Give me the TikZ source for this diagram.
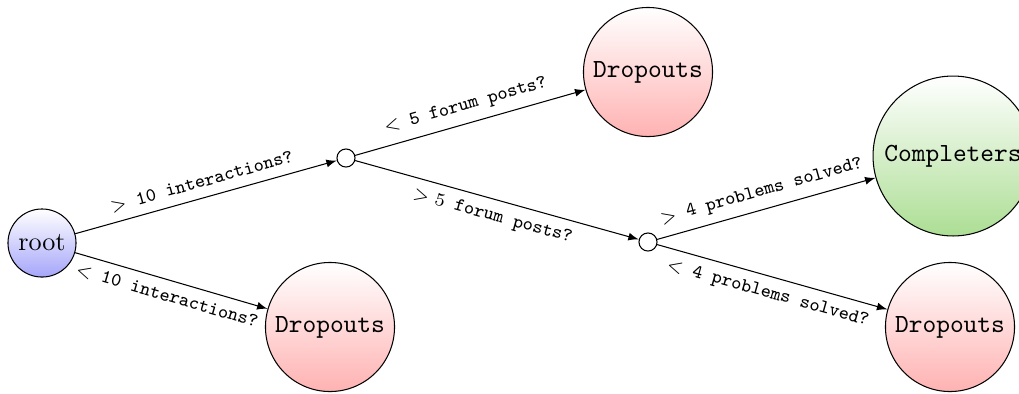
\documentclass[tikz,border=0pt]{standalone}
\usetikzlibrary{arrows}
\definecolor{dropc}{RGB}{255,178,178}
\definecolor{compc}{RGB}{172,222,148}
\definecolor{rootc}{RGB}{165,165,250}
\begin{document}
\begin{tikzpicture}[x=0.382pt,y=-0.382pt,
  shaded/.style={circle,draw,inner sep=1pt,top color=white},
  drop/.style={shaded,font=\ttfamily,bottom color=dropc,minimum size=49.3pt},
  comp/.style={shaded,font=\ttfamily,bottom color=compc,minimum size=61.1pt},
  rootnode/.style={shaded,bottom color=rootc,minimum size=26pt},
  split/.style={circle,draw,fill=white,inner sep=0pt,minimum size=6.9pt},
  lab/.style={midway,sloped,font=\fontsize{7.3}{9}\selectfont\ttfamily},
  edge/.style={-latex}]
\useasboundingbox (0,0) rectangle (1019,393);
\node[rootnode] (root) at (42,243) {root};
\node[split] (n1) at (346,158) {};
\node[split] (n2) at (648,242) {};
\node[drop] (d1) at (648,72) {Dropouts};
\node[drop] (d2) at (330,327) {Dropouts};
\node[drop] (d3) at (950,327) {Dropouts};
\node[comp] (c) at (953,156) {Completers};
\draw[edge] (root) -- node[lab,above] {$>$ 10 interactions?} (n1);
\draw[edge] (root) -- node[lab,below] {$<$ 10 interactions?} (d2);
\draw[edge] (n1) -- node[lab,above] {$<$ 5 forum posts?} (d1);
\draw[edge] (n1) -- node[lab,below] {$>5$ forum posts?} (n2);
\draw[edge] (n2) -- node[lab,above] {$>$ 4 problems solved?} (c);
\draw[edge] (n2) -- node[lab,below] {$<$ 4 problems solved?} (d3);
\end{tikzpicture}
\end{document}
